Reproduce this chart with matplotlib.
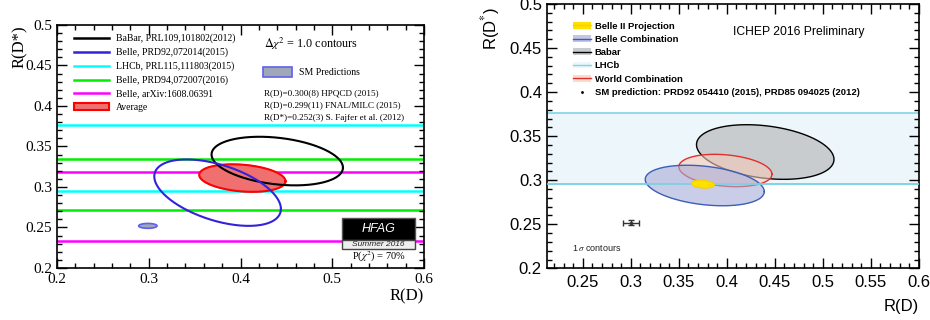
import numpy as np
import matplotlib.pyplot as plt
from matplotlib.patches import Patch, Rectangle
from matplotlib.lines import Line2D
from matplotlib.ticker import MultipleLocator

plt.rcParams['mathtext.fontset'] = 'stix'

# ---- left panel (HFAG) data ----
# horizontal lines: LHCb, Belle PRD94, Belle arXiv
lhcb_y = [0.377, 0.2955]
belle94_y = [0.334, 0.271]
belle_arx_y = [0.319, 0.2335]
# ellipses: centre x, centre y, sigma x, sigma y, rho
babar = [0.440, 0.332, 0.0716, 0.030, -0.27]
belle92 = [0.375, 0.293, 0.069, 0.041, -0.49]
average = [0.402, 0.311, 0.047, 0.017, -0.23]
sm_left = [0.299, 0.252, 0.010, 0.003, 0.0]
left_xticks = [0.2, 0.3, 0.4, 0.5, 0.6]
left_xlabels = ['0.2', '0.3', '0.4', '0.5', '0.6']
yticks = [0.2, 0.25, 0.3, 0.35, 0.4, 0.45, 0.5]
ylabels = ['0.2', '0.25', '0.3', '0.35', '0.4', '0.45', '0.5']

# ---- right panel (Belle) data ----
lhcb_band = [0.296, 0.376]
babar_r = [0.440, 0.332, 0.0716, 0.031, -0.27]
belle_comb = [0.377, 0.294, 0.062, 0.023, -0.30]
world_comb = [0.3985, 0.311, 0.0485, 0.0184, -0.23]
belle2 = [0.375, 0.2955, 0.012, 0.0045, -0.2]
sm_x, sm_y, sm_xerr, sm_yerr = 0.300, 0.252, 0.008, 0.003
right_xticks = [0.25, 0.3, 0.35, 0.4, 0.45, 0.5, 0.55, 0.6]
right_xlabels = ['0.25', '0.3', '0.35', '0.4', '0.45', '0.5', '0.55', '0.6']


def contour(p, n=200):
    # delta chi2 = 1 contour of a correlated 2D gaussian
    mx, my, sx, sy, rho = p
    t = np.linspace(0, 2 * np.pi, n)
    x = mx + sx * np.cos(t)
    y = my + sy * (rho * np.cos(t) + np.sqrt(1 - rho ** 2) * np.sin(t))
    return x, y


fig = plt.figure(figsize=(9.3, 3.2), dpi=100)

# =============== left ===============
ax = fig.add_axes([0.0613, 0.1625, 0.3947, 0.7595])
serif = 'Liberation Serif'
for y in lhcb_y:
    ax.axhline(y, color='#00ffff', lw=1.8, zorder=1)
for y in belle94_y:
    ax.axhline(y, color='#00ee00', lw=1.8, zorder=1)
for y in belle_arx_y:
    ax.axhline(y, color='#ff00ff', lw=1.8, zorder=1)

x, y = contour(average)
ax.fill(x, y, color='#f07070', zorder=2)
ax.plot(x, y, color='red', lw=1.5, zorder=3)
x, y = contour(babar)
ax.plot(x, y, color='black', lw=1.5, zorder=4)
x, y = contour(belle92)
ax.plot(x, y, color='#3322dd', lw=1.5, zorder=4)
x, y = contour(sm_left)
ax.fill(x, y, facecolor='#a0a8b8', edgecolor='#6060ee', lw=1.2, zorder=4)

ax.set_xlim(0.2, 0.6)
ax.set_ylim(0.2, 0.5)
ax.set_xticks(left_xticks, left_xlabels, fontfamily=serif, fontsize=11)
ax.set_yticks(yticks, ylabels, fontfamily=serif, fontsize=11)
ax.xaxis.set_minor_locator(MultipleLocator(0.02))
ax.yaxis.set_minor_locator(MultipleLocator(0.01))
ax.tick_params(which='both', direction='in', top=True, right=True)
ax.tick_params(which='major', length=7, width=1)
ax.tick_params(which='minor', length=3.5, width=1)
for s in ax.spines.values():
    s.set_linewidth(1.2)
ax.set_xlabel('R(D)', fontfamily=serif, fontsize=12, loc='right', labelpad=2)
ax.set_ylabel('R(D*)', fontfamily=serif, fontsize=12, loc='top', labelpad=-2)

handles = [Line2D([], [], color='black', lw=1.8),
           Line2D([], [], color='#3322dd', lw=1.8),
           Line2D([], [], color='#00ffff', lw=1.8),
           Line2D([], [], color='#00ee00', lw=1.8),
           Line2D([], [], color='#ff00ff', lw=1.8),
           Patch(facecolor='#f07070', edgecolor='red', lw=1.5)]
labels = ['BaBar, PRL109,101802(2012)', 'Belle, PRD92,072014(2015)',
          'LHCb, PRL115,111803(2015)', 'Belle, PRD94,072007(2016)',
          'Belle, arXiv:1608.06391', 'Average']
ax.legend(handles, labels, loc='upper left', bbox_to_anchor=(0.03, 0.99), frameon=False,
          prop={'family': serif, 'size': 7}, handlelength=3.6, labelspacing=0.45,
          handletextpad=0.7, borderaxespad=0.25)

ax.text(0.565, 0.905, r'$\Delta\chi^2$ = 1.0 contours', transform=ax.transAxes,
        fontfamily=serif, fontsize=8.7)
ax.add_patch(Rectangle((0.562, 0.786), 0.078, 0.04, transform=ax.transAxes,
                       facecolor='#a0a8b8', edgecolor='#6060ee', lw=1.2))
ax.text(0.66, 0.806, 'SM Predictions', transform=ax.transAxes, va='center',
        fontfamily=serif, fontsize=7)
for i, s in enumerate(['R(D)=0.300(8) HPQCD (2015)',
                       'R(D)=0.299(11) FNAL/MILC (2015)',
                       'R(D*)=0.252(3) S. Fajfer et al. (2012)']):
    ax.text(0.565, 0.72 - i * 0.052, s, transform=ax.transAxes, va='center',
            fontfamily=serif, fontsize=6.6)

ax.add_patch(Rectangle((0.777, 0.115), 0.198, 0.09, transform=ax.transAxes,
                       facecolor='black', edgecolor='#555555', lw=1, zorder=6))
ax.text(0.876, 0.16, 'HFAG', transform=ax.transAxes, ha='center', va='center',
        color='white', style='italic', fontfamily='Liberation Sans', fontsize=9, zorder=7)
ax.add_patch(Rectangle((0.777, 0.077), 0.198, 0.038, transform=ax.transAxes,
                       facecolor='#eeeeee', edgecolor='#444444', lw=1, zorder=6))
ax.text(0.876, 0.096, 'Summer 2016', transform=ax.transAxes, ha='center', va='center',
        color='#222222', style='italic', fontfamily='Liberation Sans', fontsize=6, zorder=7)
ax.text(0.876, 0.045, r'P($\chi^2$) = 70%', transform=ax.transAxes, ha='center',
        va='center', fontfamily=serif, fontsize=7.5, zorder=7)

# =============== right ===============
ax2 = fig.add_axes([0.588, 0.1615, 0.400, 0.826])
sans = 'Liberation Sans'
ax2.axhspan(lhcb_band[0], lhcb_band[1], color='#edf6fa', zorder=0)
for y in lhcb_band:
    ax2.axhline(y, color='#7fd3e6', lw=1.2, zorder=1)

x, y = contour(babar_r)
ax2.fill(x, y, facecolor='#c8cccf', edgecolor='black', lw=1.0, zorder=2)
x, y = contour(world_comb)
ax2.fill(x, y, facecolor='#f4c9b8', edgecolor='none', alpha=0.6, zorder=3)
ax2.plot(x, y, color='#e03030', lw=1.0, zorder=3)
x, y = contour(belle_comb)
ax2.fill(x, y, facecolor='#a8acd8', edgecolor='none', alpha=0.6, zorder=4)
ax2.plot(x, y, color='#3a5fb8', lw=1.0, zorder=4)
x, y = contour(belle2)
ax2.fill(x, y, facecolor='#ffe000', edgecolor='#f5d000', lw=0.8, zorder=5)
ax2.axhline(lhcb_band[0], color='#7fd3e6', lw=1.2, zorder=4.5)

ax2.errorbar([sm_x], [sm_y], xerr=[sm_xerr], yerr=[sm_yerr], fmt='o', ms=1.5,
             color='#333333', elinewidth=1, capsize=2, zorder=6)

ax2.set_xlim(0.2125, 0.6)
ax2.set_ylim(0.2, 0.5)
ax2.set_xticks(right_xticks, right_xlabels, fontfamily=sans, fontsize=12)
ax2.set_yticks(yticks, ylabels, fontfamily=sans, fontsize=12)
ax2.xaxis.set_minor_locator(MultipleLocator(0.01))
ax2.yaxis.set_minor_locator(MultipleLocator(0.01))
ax2.tick_params(which='both', direction='in', top=True, right=True)
ax2.tick_params(which='major', length=7, width=1)
ax2.tick_params(which='minor', length=3.5, width=1)
ax2.tick_params(axis='x', pad=5)
for s in ax2.spines.values():
    s.set_linewidth(1.2)
ax2.set_xlabel('R(D)', fontfamily=sans, fontsize=12, loc='right', labelpad=6)
ax2.set_ylabel(r'R(D$^{*}$)', fontfamily=sans, fontsize=12, loc='top', labelpad=6)
ax2.yaxis.set_label_coords(-0.12, 0.99)

handles2 = [(Patch(facecolor='#ffe000', edgecolor='none'), Line2D([], [], color='#f5d000', lw=1)),
            (Patch(facecolor='#c4c6e6', edgecolor='none'), Line2D([], [], color='#3a5fb8', lw=1)),
            (Patch(facecolor='#c8cccf', edgecolor='none'), Line2D([], [], color='black', lw=1)),
            (Patch(facecolor='#edf6fa', edgecolor='none'), Line2D([], [], color='#7fd3e6', lw=1)),
            (Patch(facecolor='#f9dccf', edgecolor='none'), Line2D([], [], color='#e03030', lw=1)),
            Line2D([], [], color='black', marker='.', ms=2, lw=0)]
labels2 = ['Belle II Projection', 'Belle Combination', 'Babar', 'LHCb',
           'World Combination', 'SM prediction: PRD92 054410 (2015), PRD85 094025 (2012)']
ax2.legend(handles2, labels2, loc='upper left', bbox_to_anchor=(0.055, 0.955), frameon=False,
           prop={'family': sans, 'size': 6.8, 'weight': 'bold'}, handlelength=1.9,
           labelspacing=0.45, handletextpad=0.4, borderaxespad=0.2)
ax2.text(0.406, 0.468, 'ICHEP 2016 Preliminary', fontfamily=sans, fontsize=8.7,
         va='center')
ax2.text(0.2385, 0.2235, r'1$\,\sigma$ contours', fontfamily=sans, fontsize=6.5,
         va='center', color='#222222')

fig.savefig('out.png', dpi=100)
